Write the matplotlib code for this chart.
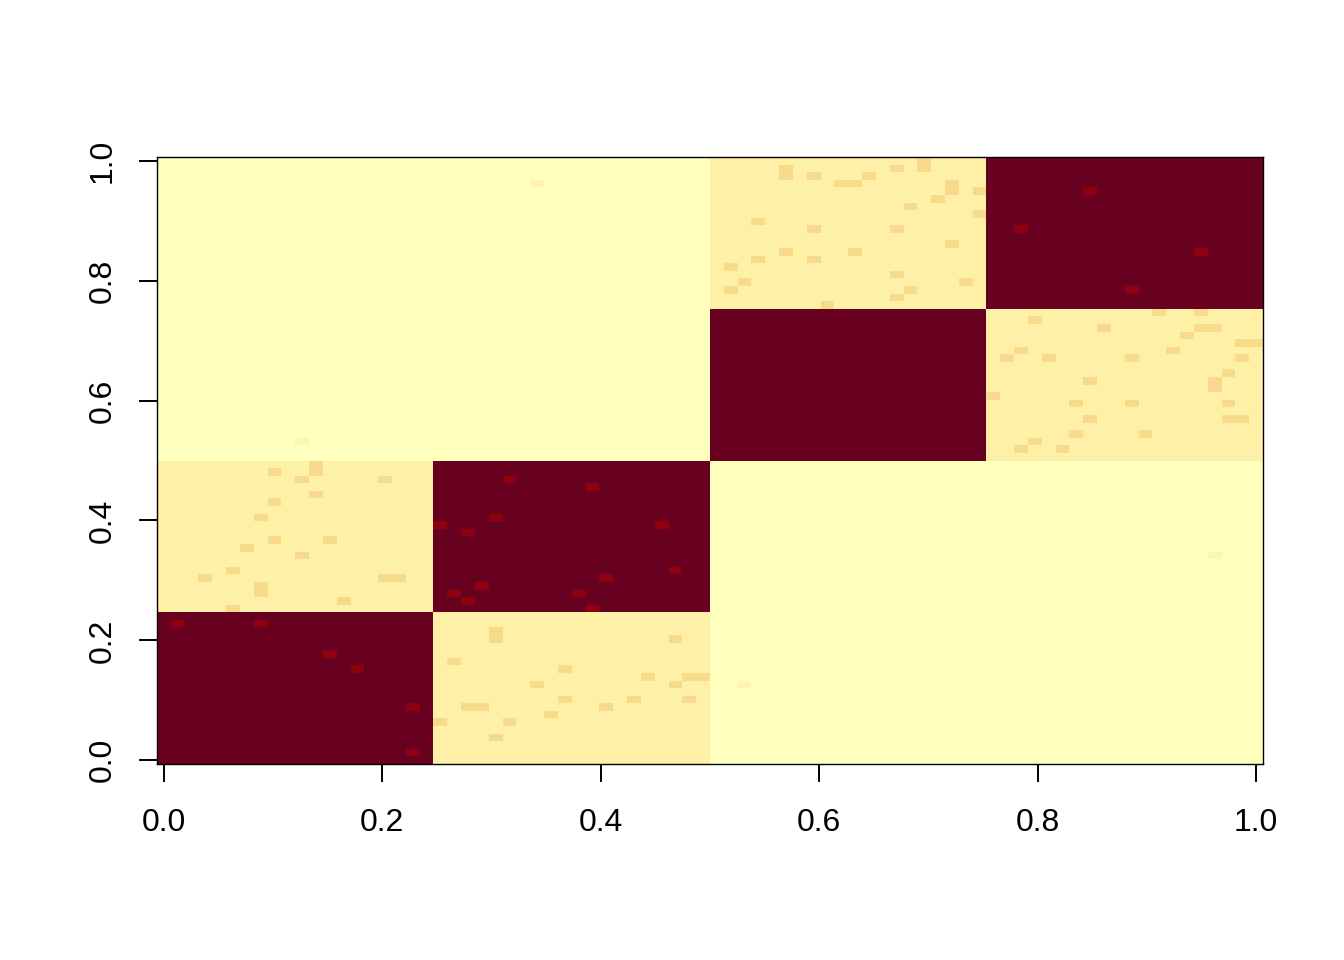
import numpy as np
import matplotlib.pyplot as plt
from matplotlib.colors import ListedColormap, BoundaryNorm

plt.rcParams['font.family'] = ['Liberation Sans', 'DejaVu Sans']

# Data
n_nodes = 80
block_sizes = [20, 20, 20, 20]
# colour level of every block pair (0 = palest ... 5 = darkest)
block_level = [[5, 2, 0, 0],
               [2, 5, 0, 0],
               [0, 0, 5, 2],
               [0, 0, 2, 5]]

# single cells (row, col) that differ from their block, mirrored over the diagonal
faint_cells = [(42, 10), (76, 27)]  # level 1
light_cells = [(24, 17), (24, 16), (37, 16), (21, 13), (29, 12), (35, 11), (38, 11),
               (39, 11), (27, 10), (37, 10), (29, 8), (34, 8), (38, 8), (22, 7),
               (23, 7), (32, 7), (28, 6), (20, 5), (25, 5), (24, 3),
               (72, 59), (75, 59), (63, 58), (68, 57), (75, 57), (76, 57), (74, 56),
               (78, 55), (79, 55), (62, 54), (73, 54), (61, 53), (64, 53), (70, 53),
               (78, 53), (77, 51), (67, 50), (76, 50), (76, 49), (60, 48), (66, 47),
               (70, 47), (77, 47), (67, 45), (77, 45), (78, 45), (66, 43), (71, 43),
               (63, 42), (62, 41), (65, 41)]  # level 3
red_cells = [(18, 1), (18, 7), (14, 12), (31, 20), (22, 21), (30, 22), (23, 23),
             (32, 24), (37, 25), (36, 31), (70, 62), (75, 67)]  # level 4

level_colors = ['#FFFFBE', '#FFF5B2', '#FFF0A8', '#F8DA8B', '#8E0010', '#68001F']

tick_vals = [0.0, 0.2, 0.4, 0.6, 0.8, 1.0]
tick_labels = ['0.0', '0.2', '0.4', '0.6', '0.8', '1.0']

# Build the matrix
starts = np.cumsum([0] + block_sizes)
mat = np.zeros((n_nodes, n_nodes), dtype=int)
for a in range(len(block_sizes)):
    for b in range(len(block_sizes)):
        mat[starts[a]:starts[a + 1], starts[b]:starts[b + 1]] = block_level[a][b]
for level, cells in [(1, faint_cells), (3, light_cells), (4, red_cells)]:
    for i, j in cells:
        mat[i, j] = level
        mat[j, i] = level

cmap = ListedColormap(level_colors)
norm = BoundaryNorm(np.arange(len(level_colors) + 1) - 0.5, cmap.N)

# Plot setup
fig = plt.figure(figsize=(13.44, 9.6), dpi=100)
ax = fig.add_axes([157 / 1344, 1 - 764 / 960, 1106 / 1344, 607 / 960])

half = 0.5 / (n_nodes - 1)
ax.imshow(mat.T, origin='lower', cmap=cmap, norm=norm, interpolation='nearest',
          aspect='auto', extent=[-half, 1 + half, -half, 1 + half])

ax.set_xlim(-half, 1 + half)
ax.set_ylim(-half, 1 + half)
ax.set_xticks(tick_vals, tick_labels)
ax.set_yticks(tick_vals, tick_labels)

ax.tick_params(axis='both', direction='out', length=13, width=1.4, labelsize=23)
ax.tick_params(axis='x', pad=19)
ax.tick_params(axis='y', pad=15)
for lbl in ax.get_yticklabels():
    lbl.set_rotation(90)
    lbl.set_va('center')

for sp in ax.spines.values():
    sp.set_linewidth(1.0)

fig.savefig('out.png', dpi=100)
